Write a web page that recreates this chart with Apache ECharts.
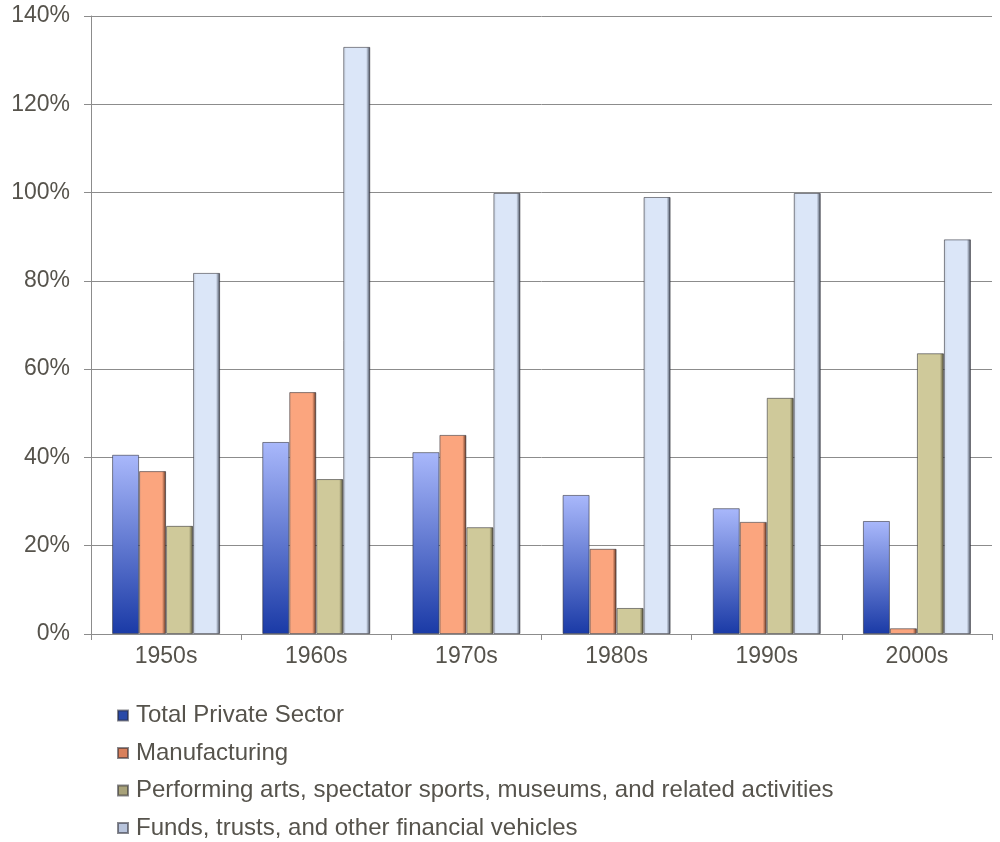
<!DOCTYPE html>
<html>
<head>
<meta charset="utf-8">
<script src="https://cdn.jsdelivr.net/npm/echarts@6/dist/echarts.min.js"></script>
<style>
  html, body { margin: 0; padding: 0; background: #fff; }
  #chart { width: 1000px; height: 842px; }
</style>
</head>
<body>
<div id="chart"></div>
<script>
  // decades on the x axis
  var decades = ['1950s', '1960s', '1970s', '1980s', '1990s', '2000s']
  var seriesNames = [
    'Total Private Sector',
    'Manufacturing',
    'Performing arts, spectator sports, museums, and related activities',
    'Funds, trusts, and other financial vehicles'
  ]
  // values in percent
  var totalPrivate = [40.6, 43.5, 41.2, 31.5, 28.5, 25.6]
  var manufacturing = [36.9, 54.8, 45.1, 19.3, 25.4, 1.3]
  var performingArts = [24.5, 35.1, 24.2, 5.9, 53.5, 63.6]
  var fundsTrusts = [81.8, 133.0, 99.9, 99.0, 99.9, 89.4]

  var textColor = '#56534c'
  var lineColor = '#8c8c8c'

  function grad(c1, c2) {
    return new echarts.graphic.LinearGradient(0, 1, 0, 0, [
      {offset: 0, color: c1},
      {offset: 1, color: c2}
    ])
  }
  function side(c1, c2, c3) {
    return new echarts.graphic.LinearGradient(0, 0, 1, 0, [
      {offset: 0, color: c1},
      {offset: 0.12, color: c2},
      {offset: 0.85, color: c2},
      {offset: 1, color: c3}
    ])
  }

  var colors = [
    grad('#1a3aa6', '#a9b8fb'),
    side('#f4a682', '#fba57e', '#5a2e1c'),
    side('#d8d2a5', '#cfc99a', '#4d4a30'),
    side('#c9d2e0', '#dbe6f8', '#3c4250')
  ]
  var legendColors = ['#2a4aa8', '#d9805c', '#a8a27a', '#b8c4dc']
  var allData = [totalPrivate, manufacturing, performingArts, fundsTrusts]

  var chart = echarts.init(document.getElementById('chart'))
  chart.setOption({
    animation: false,
    textStyle: {fontFamily: '"Liberation Sans", Arial, sans-serif'},
    grid: {left: 91, right: 8, top: 16, bottom: 208},
    legend: {
      orient: 'vertical',
      left: 117,
      top: 703,
      padding: 0,
      itemGap: 12.5,
      itemWidth: 10,
      itemHeight: 10,
      icon: 'rect',
      textStyle: {color: textColor, fontSize: 24, lineHeight: 25, padding: [0, 0, 0, 3]},
      data: seriesNames.map(function (n, i) {
        return {name: n, itemStyle: {color: legendColors[i]}}
      })
    },
    xAxis: {
      type: 'category',
      data: decades,
      axisLine: {lineStyle: {color: lineColor, width: 1}},
      axisTick: {show: true, length: 6, lineStyle: {color: lineColor}},
      axisLabel: {color: textColor, fontSize: 23, margin: 11}
    },
    yAxis: {
      type: 'value',
      min: 0,
      max: 140,
      interval: 20,
      axisLine: {show: true, lineStyle: {color: lineColor, width: 1}},
      axisTick: {show: true, length: 7, lineStyle: {color: lineColor}},
      splitLine: {lineStyle: {color: lineColor, width: 1}},
      axisLabel: {color: textColor, fontSize: 23, margin: 21, formatter: '{value}%'}
    },
    series: allData.map(function (d, i) {
      return {
        name: seriesNames[i],
        type: 'bar',
        data: d,
        barWidth: 27,
        barGap: '0%',
        itemStyle: {color: colors[i], borderColor: 'rgba(40,40,50,0.55)', borderWidth: 1}
      }
    })
  })
</script>
</body>
</html>
